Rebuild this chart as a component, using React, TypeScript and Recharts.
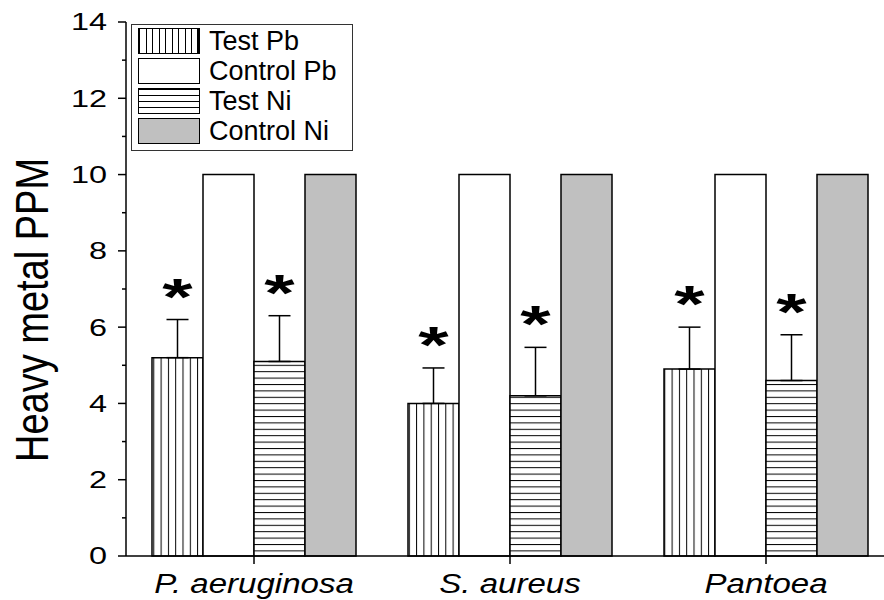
import { BarChart, Bar, XAxis, YAxis, ErrorBar, LabelList } from "recharts";

// --------------------
// Data
// --------------------
const categories = ["P. aeruginosa", "S. aureus", "Pantoea"];
const seriesNames = ["Test Pb", "Control Pb", "Test Ni", "Control Ni"];
const testPb = [5.2, 4.0, 4.9];
const testPbErr = [1.0, 0.93, 1.1];
const controlPb = [10, 10, 10];
const testNi = [5.1, 4.2, 4.6];
const testNiErr = [1.2, 1.27, 1.2];
const controlNi = [10, 10, 10];
const yTicks = [0, 1, 2, 3, 4, 5, 6, 7, 8, 9, 10, 11, 12, 13, 14];

const FONT = "'Liberation Sans', Arial, sans-serif";
const Y_TICK_SIZE = 8;
const Y_TICK_MARGIN = 11;

const data = categories.map((name, i) => ({
  name,
  testPb: testPb[i],
  testPbErr: [0, testPbErr[i]],
  controlPb: controlPb[i],
  testNi: testNi[i],
  testNiErr: [0, testNiErr[i]],
  controlNi: controlNi[i],
}));

// asterisk above the error bar cap
function starLabel(errs: number[]) {
  return (props: any) => {
    const { x, y, width, height, value, index } = props;
    if (!value) return null;
    const pxPerUnit = height / value;
    const capY = y - errs[index] * pxPerUnit;
    return (
      <text
        transform={`translate(${x + width / 2},${capY - 5}) scale(1.5,1)`}
        textAnchor="middle"
        fontSize={52}
        fontWeight="bold"
        fontFamily={FONT}
        fill="#000"
      >
        *
      </text>
    );
  };
}

// major ticks get a label and a long tick, minor ticks a short one
function YTick(props: any) {
  const { x, y, payload } = props;
  const axisX = x + Y_TICK_MARGIN + Y_TICK_SIZE;
  const major = payload.value % 2 === 0;
  return (
    <g>
      <line x1={axisX - (major ? Y_TICK_SIZE : 4)} y1={y} x2={axisX} y2={y} stroke="#000" strokeWidth={1.5} />
      {major && (
        <text
          transform={`translate(${x},${y}) scale(1.35,1)`}
          textAnchor="end"
          dominantBaseline="central"
          fontSize={24}
          fontFamily={FONT}
          fill="#000"
        >
          {payload.value}
        </text>
      )}
    </g>
  );
}

function XTick(props: any) {
  const { x, y, payload } = props;
  return (
    <text
      transform={`translate(${x},${y}) scale(1.18,1)`}
      dy="0.71em"
      textAnchor="middle"
      fontSize={28}
      fontStyle="italic"
      fontFamily={FONT}
      fill="#000"
    >
      {payload.value}
    </text>
  );
}

const swatchBg: Record<string, string> = {
  "Test Pb": "repeating-linear-gradient(90deg, #000 0 1px, #fff 1px 6.5px)",
  "Control Pb": "#fff",
  "Test Ni": "repeating-linear-gradient(180deg, #000 0 1px, #fff 1px 6px)",
  "Control Ni": "#c0c0c0",
};

function LegendBox() {
  return (
    <div
      style={{
        position: "absolute",
        left: 131,
        top: 24,
        width: 222,
        height: 127,
        border: "1px solid #333",
        background: "#fff",
        fontFamily: FONT,
        boxSizing: "border-box",
      }}
    >
      {seriesNames.map((s, i) => (
        <div key={s} style={{ position: "absolute", left: 6, top: 3 + i * 30, display: "flex", alignItems: "center" }}>
          <div
            style={{
              width: 62,
              height: 26,
              border: "1.5px solid #000",
              boxSizing: "border-box",
              background: swatchBg[s],
            }}
          />
          <span style={{ marginLeft: 9, fontSize: 27, lineHeight: "26px", color: "#000" }}>{s}</span>
        </div>
      ))}
    </div>
  );
}

export default function App() {
  return (
    <div style={{ position: "absolute", left: 0, top: 0, width: 884, height: 600, overflow: "hidden", background: "#fff" }}>
      <BarChart
        width={900}
        height={600}
        data={data}
        margin={{ top: 22, right: 6, bottom: 0, left: 0 }}
        barCategoryGap={26}
        barGap={0}
      >
        <defs>
          <pattern id="vlines" patternUnits="userSpaceOnUse" width={7.3} height={10}>
            <rect width={7.3} height={10} fill="#fff" />
            <line x1={0.5} y1={0} x2={0.5} y2={10} stroke="#000" strokeWidth={1} />
          </pattern>
          <pattern id="hlines" patternUnits="userSpaceOnUse" width={10} height={6.4}>
            <rect width={10} height={6.4} fill="#fff" />
            <line x1={0} y1={0.5} x2={10} y2={0.5} stroke="#000" strokeWidth={1} />
          </pattern>
        </defs>
        <XAxis
          dataKey="name"
          height={44}
          interval={0}
          axisLine={{ stroke: "#000", strokeWidth: 1.5 }}
          tickLine={{ stroke: "#000", strokeWidth: 1.5 }}
          tickSize={8}
          tickMargin={9}
          tick={<XTick />}
        />
        <YAxis
          width={126}
          domain={[0, 14]}
          ticks={yTicks}
          interval={0}
          axisLine={{ stroke: "#000", strokeWidth: 1.5 }}
          tickLine={false}
          tickSize={Y_TICK_SIZE}
          tickMargin={Y_TICK_MARGIN}
          tick={<YTick />}
          label={{
            content: () => (
              <text
                transform="translate(32,310) rotate(-90) scale(1,1.2)"
                textAnchor="middle"
                dominantBaseline="central"
                fontSize={38}
                fontFamily={FONT}
                fill="#000"
              >
                Heavy metal PPM
              </text>
            ),
          }}
        />
        <Bar dataKey="testPb" name="Test Pb" fill="url(#vlines)" stroke="#000" strokeWidth={1.5} isAnimationActive={false}>
          <ErrorBar dataKey="testPbErr" direction="y" width={11} stroke="#000" strokeWidth={1.5} />
          <LabelList dataKey="testPb" content={starLabel(testPbErr)} />
        </Bar>
        <Bar dataKey="controlPb" name="Control Pb" fill="#fff" stroke="#000" strokeWidth={1.5} isAnimationActive={false} />
        <Bar dataKey="testNi" name="Test Ni" fill="url(#hlines)" stroke="#000" strokeWidth={1.5} isAnimationActive={false}>
          <ErrorBar dataKey="testNiErr" direction="y" width={11} stroke="#000" strokeWidth={1.5} />
          <LabelList dataKey="testNi" content={starLabel(testNiErr)} />
        </Bar>
        <Bar dataKey="controlNi" name="Control Ni" fill="#c0c0c0" stroke="#000" strokeWidth={1.5} isAnimationActive={false} />
      </BarChart>
      <LegendBox />
    </div>
  );
}
